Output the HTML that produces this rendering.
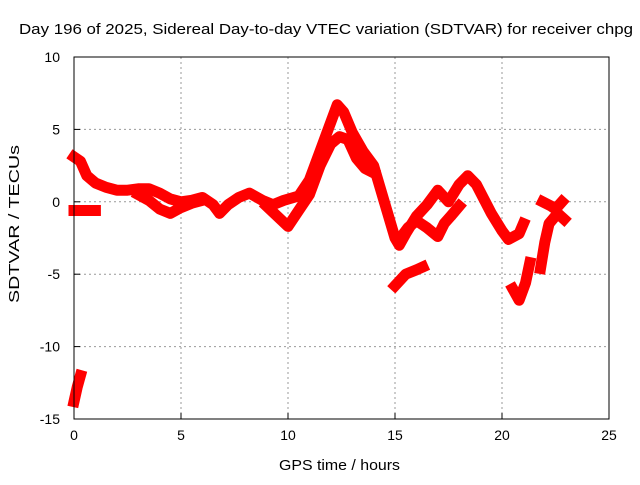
<!DOCTYPE html>
<html><head><meta charset="utf-8"><style>
body{margin:0;background:#fff}
svg text{font-family:"Liberation Sans",sans-serif;font-size:14px;fill:#000}
</style></head><body>
<svg id="chart" width="640" height="480" xmlns="http://www.w3.org/2000/svg">
<text x="19" y="34" textLength="614" lengthAdjust="spacingAndGlyphs" style="font-size:15px">Day 196 of 2025, Sidereal Day-to-day VTEC variation (SDTVAR) for receiver chpg</text>
<text x="279" y="470" textLength="121" lengthAdjust="spacingAndGlyphs" style="font-size:15px">GPS time / hours</text>
<text transform="translate(19,303) rotate(-90)" textLength="158" lengthAdjust="spacingAndGlyphs" style="font-size:15px">SDTVAR / TECUs</text>
<g id="grid"></g><g id="marks"></g><g id="axes"></g>
</svg>
<script>
const xTicks=[0,5,10,15,20,25];
const yTicks=[10,5,0,-5,-10,-15];
const seriesMainT=[0,0.3,0.6,1,1.5,2,2.5,3,3.5,4,4.5,5,5.5,6,6.5,6.8,7.2,7.7,8.2,8.8,9.3,9.8,10.5,11,11.5,12,12.3,12.6,13,13.5,14,14.5,15,15.2,15.5,16,16.5,17,17.5,18,18.4,18.8,19.5,20,20.3,20.8,21];
const seriesMainV=[3.1,2.8,1.8,1.3,1.0,0.8,0.8,0.9,0.9,0.6,0.2,0.0,0.1,0.3,-0.2,-0.8,-0.2,0.3,0.6,0.1,-0.2,0.1,0.4,1.5,3.5,5.5,6.7,6.2,4.8,3.5,2.5,0,-2.5,-3.0,-2.2,-1.0,-0.2,0.8,0.0,1.2,1.8,1.2,-0.8,-2.0,-2.6,-2.2,-1.5];
const seriesLowT=[3,3.5,4,4.5,5,5.5,6];
const seriesLowV=[0.5,0.1,-0.5,-0.8,-0.4,-0.1,0.1];
const seriesDipT=[9,9.5,10,10.5,11,11.5,12,12.4,12.8,13.2,13.6,14];
const seriesDipV=[-0.3,-1.0,-1.7,-0.6,0.5,2.5,4.0,4.5,4.3,3.0,2.3,2.0];
const seriesMidT=[15.3,15.6,16,16.5,17,17.3,17.6,18];
const seriesMidV=[-2.4,-1.8,-1.3,-1.8,-2.4,-1.5,-1.0,-0.3];
const seriesFlatT=[0,0.5,1];
const seriesFlatV=[-0.6,-0.6,-0.6];
const seriesStartT=[0,0.15,0.3];
const seriesStartV=[-13.8,-12.8,-12.0];
const seriesS15T=[15,15.5,16,16.3];
const seriesS15V=[-5.8,-5.0,-4.7,-4.5];
const seriesS20T=[20.5,20.8,21.1,21.3];
const seriesS20V=[-6.0,-6.8,-5.6,-4.2];
const seriesS22T=[21.8,22,22.2,22.6,22.9];
const seriesS22V=[-4.6,-2.8,-1.5,-0.8,-1.2];
const seriesS22bT=[21.9,22.3,22.5,22.8];
const seriesS22bV=[0,-0.3,-0.5,0];
const X0=74,X1=609,Y0=419,Y1=57;
const sx=t=>X0+(t-0)/25*(X1-X0);
const sy=v=>Y0-(v+15)/25*(Y0-Y1);
const NS="http://www.w3.org/2000/svg";
const grid=document.getElementById('grid'),axes=document.getElementById('axes'),marks=document.getElementById('marks');
function mk(tag,at,parent){const e=document.createElementNS(NS,tag);for(const k in at)e.setAttribute(k,at[k]);parent.appendChild(e);return e;}
xTicks.forEach(t=>{
 if(t>0&&t<25){const g=mk('line',{x1:sx(t),x2:sx(t),y1:Y1,y2:Y0,stroke:'#999','stroke-dasharray':'2,3'},grid);
 
 }
 const tk=mk('line',{x1:sx(t),x2:sx(t),y1:Y0,y2:Y0-6,stroke:'#000'},axes);
 
 
 const l=mk('text',{x:sx(t),y:Y0+21,'text-anchor':'middle'},axes);l.textContent=t;
 
 
});
yTicks.forEach(v=>{
 if(v>-15&&v<10){const g=mk('line',{x1:X0,x2:X1,y1:sy(v),y2:sy(v),stroke:'#999','stroke-dasharray':'2,3'},grid);
 
 }
 const tk=mk('line',{x1:X0,x2:X0+6,y1:sy(v),y2:sy(v),stroke:'#000'},axes);
 
 
 const l=mk('text',{x:X0-14,y:sy(v)+5,'text-anchor':'end'},axes);l.textContent=v;
 
 
});
const frame=mk('rect',{x:X0,y:Y1,width:X1-X0,height:Y0-Y1,fill:'none',stroke:'#000'},axes);


const all=[[seriesMainT,seriesMainV],[seriesLowT,seriesLowV],[seriesDipT,seriesDipV],[seriesMidT,seriesMidV],[seriesFlatT,seriesFlatV],[seriesStartT,seriesStartV],[seriesS15T,seriesS15V],[seriesS20T,seriesS20V],[seriesS22T,seriesS22V],[seriesS22bT,seriesS22bV]];
all.forEach(([T,V])=>{
 const pts=T.map((t,i)=>sx(t)+','+sy(V[i])).join(' ');
 const p=mk('polyline',{points:pts,fill:'none',stroke:'#f00','stroke-width':11,'stroke-linejoin':'round','stroke-linecap':'square'},marks);
 
 
});
</script>
</body></html>
